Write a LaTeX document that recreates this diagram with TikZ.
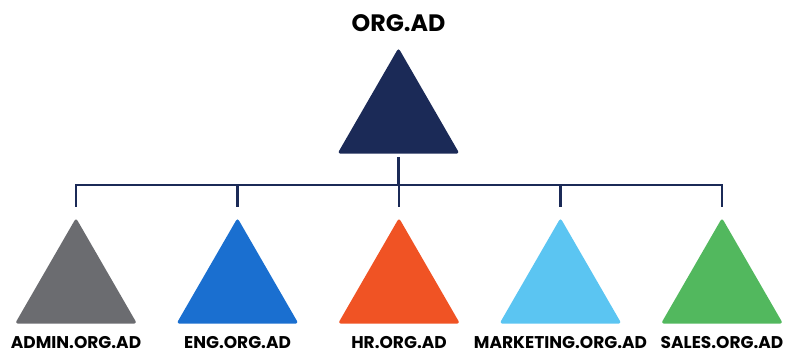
\documentclass[tikz,border=0pt]{standalone}
\usepackage{fontspec}
\setmainfont{Poppins}
\usetikzlibrary{shapes.geometric}
\definecolor{navy}{HTML}{1B2A57}
\definecolor{slate}{HTML}{6B6C70}
\definecolor{engblue}{HTML}{1A6FD0}
\definecolor{hrorange}{HTML}{F05324}
\definecolor{skyblue}{HTML}{5BC5F2}
\definecolor{salesgreen}{HTML}{52B85E}
\tikzset{
  domain/.style={regular polygon, regular polygon sides=3, minimum size=3.52cm,
    inner sep=0pt, outer sep=0pt, rounded corners=2pt, fill=#1},
  domainlabel/.style={font=\bfseries\fontsize{12.1}{14}\selectfont, anchor=base,
    inner sep=0pt, text depth=0pt},
  link/.style={draw=navy, line width=1.8pt},
}
\begin{document}
\begin{tikzpicture}
  \useasboundingbox (0,0) rectangle (19.775,8.875);
  \node[domain=navy] (org) at (9.9625,5.915) {};
  \node[domainlabel, font=\bfseries\fontsize{16.9}{20}\selectfont] (orglabel) at (9.9625,8.075) {ORG.AD};
  \node[domain=slate] (admin) at (1.9,1.665) {};
  \node[domain=engblue] (eng) at (5.9375,1.665) {};
  \node[domain=hrorange] (hr) at (9.975,1.665) {};
  \node[domain=skyblue] (mkt) at (14.0125,1.665) {};
  \node[domain=salesgreen] (sales) at (18.05,1.665) {};
  \node[domainlabel] (adminlabel) at (1.9,0.15) {ADMIN.ORG.AD};
  \node[domainlabel] (englabel) at (5.9375,0.15) {ENG.ORG.AD};
  \node[domainlabel] (hrlabel) at (9.975,0.15) {HR.ORG.AD};
  \node[domainlabel] (mktlabel) at (14.0125,0.15) {MARKETING.ORG.AD};
  \node[domainlabel] (saleslabel) at (18.05,0.15) {SALES.ORG.AD};
  \coordinate (bus) at (0,4.25);
  \draw[link, shorten <=0.08cm] (org.side 2) -- (bus -| org);
  \draw[link, line cap=rect] (bus -| admin) -- (bus -| sales);
  \draw[link, shorten >=0.27cm] (bus -| admin) -- (admin.corner 1);
  \draw[link, shorten >=0.27cm] (bus -| eng) -- (eng.corner 1);
  \draw[link, shorten >=0.27cm] (bus -| hr) -- (hr.corner 1);
  \draw[link, shorten >=0.27cm] (bus -| mkt) -- (mkt.corner 1);
  \draw[link, shorten >=0.27cm] (bus -| sales) -- (sales.corner 1);
\end{tikzpicture}
\end{document}
